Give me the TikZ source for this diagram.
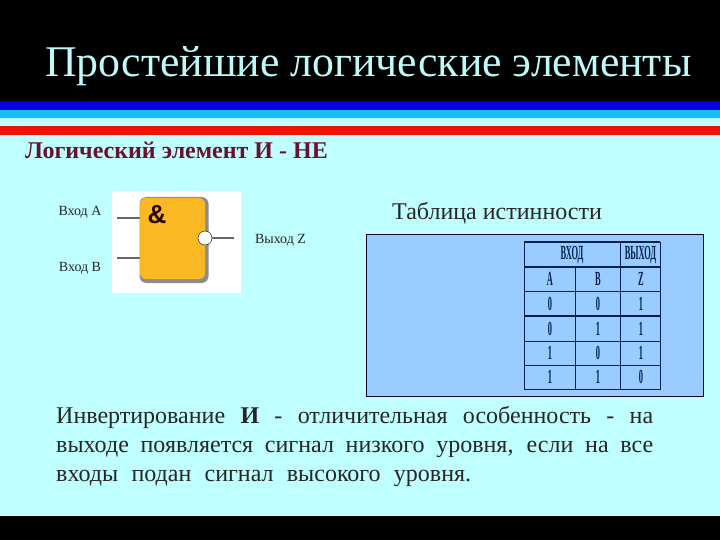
\documentclass[tikz,border=0pt]{standalone}
\usepackage{fontspec}
\setmainfont{Liberation Serif}
\setsansfont{Liberation Sans}
\definecolor{slidebg}{RGB}{192,255,255}
\definecolor{titlecol}{RGB}{190,250,250}
\definecolor{headcol}{RGB}{104,16,48}
\definecolor{panelcol}{RGB}{153,204,255}
\definecolor{gatecol}{RGB}{250,185,35}
\definecolor{inkcol}{RGB}{0,32,80}
\definecolor{bandblue}{RGB}{0,0,225}
\definecolor{bandsky}{RGB}{20,190,245}
\definecolor{bandred}{RGB}{235,20,0}
\tikzset{
    band/.style={fill=#1,draw=none},
    pinlabel/.style={font=\fontsize{14}{14}\selectfont,inner sep=0pt,text=black!85},
    cellA/.style={font=\bfseries\fontsize{20}{20}\selectfont,inner sep=0pt,text=inkcol,xscale=0.42},
    pin/.style={draw=black!60,line width=1.6pt},
    tabline/.style={draw=inkcol,line width=0.9pt},
}
\begin{document}
\begin{tikzpicture}[x=1pt,y=-1pt]
    \useasboundingbox (0,0) rectangle (720,540);
    \fill [slidebg] (0,0) rectangle (720,540);
    % bands
    \fill [band=black] (0,0) rectangle (720,101);
    \fill [band=bandblue] (0,101) rectangle (720,110);
    \fill [band=bandsky] (0,110) rectangle (720,118);
    \fill [band=bandred] (0,126) rectangle (720,135);
    \fill [band=black] (0,516) rectangle (720,540);
    % headings
    \node (title) [anchor=base west,inner sep=0pt,text=titlecol,font=\fontsize{43.8}{43.8}\selectfont]
        at (45,77) {Простейшие логические элементы};
    \node (head) [anchor=base west,inner sep=0pt,text=headcol,font=\bfseries\fontsize{24}{24}\selectfont]
        at (25,159) {Логический элемент И - НЕ};
    \node (tabhead) [anchor=base west,inner sep=0pt,text=black!85,font=\fontsize{24}{24}\selectfont]
        at (392,219) {Таблица истинности};
    % gate
    \fill [white] (112,191) rectangle (241,293);
    \coordinate (inA) at (117,218);
    \coordinate (inB) at (117,258);
    \coordinate (outZ) at (234,238);
    \draw [pin] (inA) -- (140,218);
    \draw [pin] (inB) -- (140,258);
    \fill [black!45,rounded corners=7pt] (139.5,197) rectangle (208.5,283);
    \node (gate) [fill=gatecol,rounded corners=6pt,inner sep=0pt,minimum width=65pt,minimum height=81pt]
        at (172.5,238.5) {};
    \node (amp) [inner sep=0pt,text=black!85!red,font=\sffamily\bfseries\fontsize{26}{26}\selectfont]
        at (157,215) {\&};
    \node (inv) [circle,draw=black,fill=white,inner sep=0pt,minimum size=14pt] at (205,238) {};
    \draw [pin] (inv) -- (outZ);
    \node (labA) [pinlabel] at (80,212) {Вход А};
    \node (labB) [pinlabel] at (80,268) {Вход В};
    \node (labZ) [pinlabel] at (280.5,240) {Выход Z};
    % truth table
    \draw [fill=panelcol,draw=black!80!blue,line width=0.8pt] (366.5,234) rectangle (703,396.5);
    \draw [tabline,line width=1.4pt] (524,242) -- (660,242);
    \draw [tabline,line width=1.4pt] (524,267) -- (660,267);
    \draw [tabline] (524,291) -- (660,291);
    \draw [tabline,line width=1.4pt] (524,316) -- (660,316);
    \draw [tabline] (524,341) -- (660,341);
    \draw [tabline] (524,365) -- (660,365);
    \draw [tabline] (524,389.5) -- (660,389.5);
    \draw [tabline] (524,242) -- (524,389.5);
    \draw [tabline,line width=0.5pt] (660,242) -- (660,389.5);
    \draw [tabline] (575,267) -- (575,389.5);
    \draw [tabline,line width=0.5pt] (620,242) -- (620,389.5);
    \node (inhead) [cellA] at (572,255) {ВХОД};
    \node (outhead) [cellA] at (640.5,255) {ВЫХОД};
    \foreach \y/\a/\b/\z in {279/A/B/Z,304/0/0/1,329/0/1/1,353/1/0/1,377/1/1/0} {
        \node [cellA] at (550,\y) {\a};
        \node [cellA] at (598,\y) {\b};
        \node [cellA] at (641,\y) {\z};
    }
    % note
    \node (note) [anchor=north west,inner sep=0pt,text width=597pt,align=justify,text=black!85,
        font=\fontsize{24}{29}\selectfont] at (56,406)
        {Инвертирование \textbf{И} - отличительная особенность - на\linebreak выходе появляется сигнал низкого уровня, если на все\linebreak входы подан сигнал высокого уровня.\parfillskip=182pt\par};
\end{tikzpicture}
\end{document}
